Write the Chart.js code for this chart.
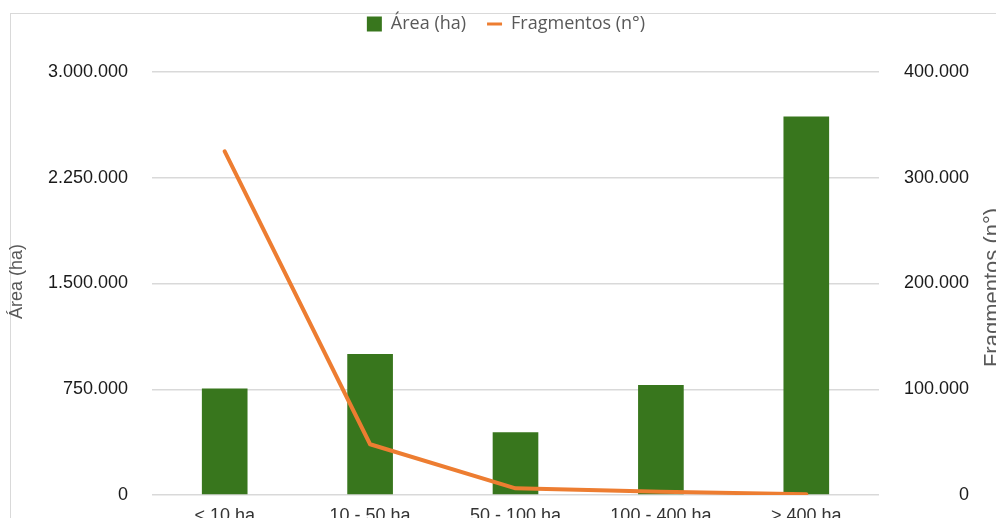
<!DOCTYPE html>
<html>
<head>
<meta charset="utf-8">
<script src="https://cdn.jsdelivr.net/npm/chart.js@4.4.1/dist/chart.umd.min.js"></script>
<style>
  html, body { margin: 0; padding: 0; background: #fff; overflow: hidden; width: 996px; height: 518px; }
  #frame { position: absolute; left: 10px; top: 13px; width: 1400px; height: 800px;
           border-left: 1px solid #d9d9d9; border-top: 1px solid #d9d9d9; }
  #wrap { position: absolute; left: 0; top: 0; width: 1010px; height: 560px; }
</style>
</head>
<body>
<div id="frame"></div>
<div id="wrap"><canvas id="chart"></canvas></div>
<script>
// Size classes of the forest fragments
const categories = ['< 10 ha', '10 - 50 ha', '50 - 100 ha', '100 - 400 ha', '> 400 ha'];
// Total area per class (ha)
const areaHa = [755000, 1000000, 445000, 780000, 2685000];
// Number of fragments per class
const fragmentos = [325000, 48000, 6300, 3100, 800];
// Axis ticks
const areaTicks = [0, 750000, 1500000, 2250000, 3000000];
const fragTicks = [0, 100000, 200000, 300000, 400000];

const GREEN = '#38761d';
const ORANGE = '#ED7D31';
const TICK_FONT = { family: '"Liberation Sans", Arial, sans-serif', size: 18 };

// Thousands separated with dots: 3.000.000
function fmt(v) {
  return String(Math.round(v)).replace(/\B(?=(\d{3})+(?!\d))/g, '.');
}

// Room above the plot for the legend row
const legendSpace = {
  id: 'legendSpace',
  afterInit(chart) {
    const lg = chart.legend;
    const fit = lg.fit.bind(lg);
    lg.fit = function () { fit(); this.height = 78; };
  }
};

// Both axis titles, read bottom-to-top
const axisTitles = {
  id: 'axisTitles',
  afterDraw(chart) {
    const ctx = chart.ctx;
    const a = chart.chartArea;
    const mid = (a.top + a.bottom) / 2;
    ctx.save();
    ctx.fillStyle = '#595959';
    ctx.textAlign = 'center';
    ctx.textBaseline = 'middle';

    ctx.save();
    ctx.translate(17, mid - 2);
    ctx.rotate(-Math.PI / 2);
    ctx.font = '18px "Liberation Sans", Arial, sans-serif';
    ctx.fillText('Área (ha)', 0, 0);
    ctx.restore();

    ctx.save();
    ctx.translate(993, mid + 4);
    ctx.rotate(-Math.PI / 2);
    ctx.font = '22px "Liberation Sans", Arial, sans-serif';
    ctx.fillText('Fragmentos (n°)', 0, 0);
    ctx.restore();

    ctx.restore();
  }
};

function draw() {
  new Chart(document.getElementById('chart'), {
    data: {
      labels: categories,
      datasets: [
        {
          type: 'bar',
          label: 'Área (ha)',
          data: areaHa,
          backgroundColor: GREEN,
          borderWidth: 0,
          yAxisID: 'y',
          order: 1,
          categoryPercentage: 1,
          barPercentage: 0.314
        },
        {
          type: 'line',
          label: 'Fragmentos (n°)',
          data: fragmentos,
          borderColor: ORANGE,
          backgroundColor: ORANGE,
          borderWidth: 4,
          borderCapStyle: 'round',
          borderJoinStyle: 'round',
          pointRadius: 0,
          tension: 0,
          yAxisID: 'y1',
          order: 0
        }
      ]
    },
    options: {
      responsive: true,
      maintainAspectRatio: false,
      animation: false,
      layout: { padding: { left: 43, right: 41, top: -6, bottom: 0 } },
      plugins: {
        tooltip: { enabled: false },
        legend: {
          position: 'top',
          labels: {
            font: { family: '"Open Sans", sans-serif', size: 18 },
            color: '#595959',
            padding: 21,
            usePointStyle: true,
            pointStyleWidth: 15,
            boxHeight: 15,
            sort: (a, b) => a.datasetIndex - b.datasetIndex,
            generateLabels(chart) {
              const items = Chart.defaults.plugins.legend.labels.generateLabels(chart);
              items.forEach(it => {
                if (it.datasetIndex === 0) {
                  it.pointStyle = 'rect';
                  it.fillStyle = GREEN;
                  it.lineWidth = 0;
                } else {
                  it.pointStyle = 'line';
                  it.strokeStyle = ORANGE;
                  it.lineWidth = 3;
                }
              });
              return items;
            }
          }
        }
      },
      scales: {
        x: {
          grid: { display: false, drawTicks: false },
          border: { display: false },
          ticks: { font: TICK_FONT, color: '#333', padding: 10, maxRotation: 0, autoSkip: false },
          afterFit(s) { s.height = 65; }
        },
        y: {
          position: 'left',
          min: 0,
          max: 3000000,
          grid: { color: '#d9d9d9', lineWidth: 1.5, drawTicks: false },
          border: { display: false },
          ticks: { font: TICK_FONT, color: '#1a1a1a', padding: 24, callback: v => fmt(v) },
          afterBuildTicks(s) { s.ticks = areaTicks.map(v => ({ value: v })); },
          afterFit(s) { s.width = 109; }
        },
        y1: {
          position: 'right',
          min: 0,
          max: 400000,
          grid: { display: false, drawTicks: false },
          border: { display: false },
          ticks: { font: TICK_FONT, color: '#1a1a1a', padding: 24, crossAlign: 'far', callback: v => fmt(v) },
          afterBuildTicks(s) { s.ticks = fragTicks.map(v => ({ value: v })); },
          afterFit(s) { s.width = 90; }
        }
      }
    },
    plugins: [legendSpace, axisTitles]
  });
}

Promise.all([
  document.fonts.load('18px "Open Sans"'),
  document.fonts.load('18px "Liberation Sans"')
]).then(draw, draw);
</script>
</body>
</html>
